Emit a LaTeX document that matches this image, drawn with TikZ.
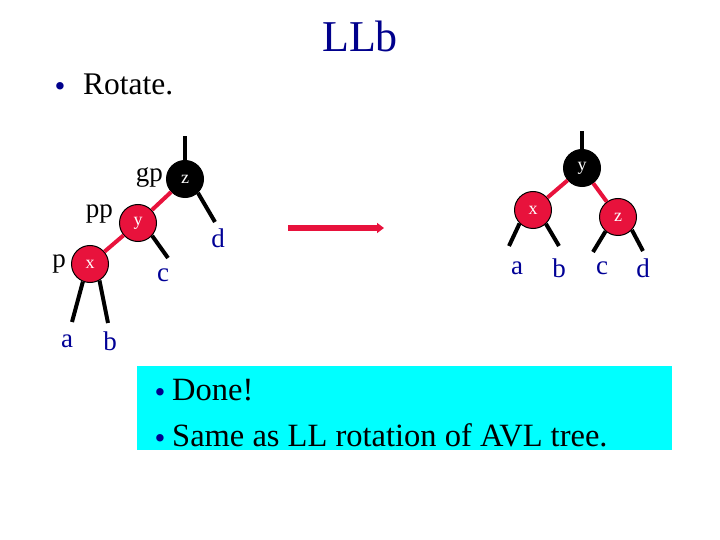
\documentclass[tikz,border=0pt]{standalone}
\usepackage{fontspec}
\setmainfont{Liberation Serif}
\usetikzlibrary{arrows.meta}
\definecolor{rbred}{RGB}{232,18,60}
\definecolor{navy}{RGB}{0,0,140}
\definecolor{lblue}{RGB}{0,0,150}
\definecolor{boxcyan}{RGB}{0,255,255}
\tikzset{
  rnode/.style={circle,draw=black,line width=1pt,fill=rbred,minimum size=37pt,inner sep=0pt,text=white,font=\fontsize{18}{18}\selectfont},
  bnode/.style={circle,draw=black,line width=1pt,fill=black,minimum size=37pt,inner sep=0pt,text=white,font=\fontsize{18}{18}\selectfont},
  blk/.style={line width=4pt,black},
  redge/.style={line width=4pt,rbred},
  sub/.style={text=lblue,font=\fontsize{27}{27}\selectfont,inner sep=0pt},
  role/.style={text=black,font=\fontsize{27}{27}\selectfont,inner sep=0pt},
  btxt/.style={font=\fontsize{32.5}{32.5}\selectfont,inner sep=0pt,anchor=base west},
  bul/.style={text=navy,font=\fontsize{31}{31}\selectfont,inner sep=0pt,anchor=base}
}
\begin{document}
\begin{tikzpicture}[x=1pt,y=-1pt]
\useasboundingbox (0,0) rectangle (720,540);
% title
\node[text=navy,font=\fontsize{44}{44}\selectfont,inner sep=0pt,anchor=base] (title) at (360,52) {LLb};
\node[bul] (b0) at (60,97) {•};
\node[btxt,font=\fontsize{31.5}{31.5}\selectfont] (rot) at (83,95) {Rotate.};
% left tree
\node[bnode] (lz) at (185,179) {z};
\node[rnode] (ly) at (138,223) {y};
\node[rnode] (lx) at (90,264) {x};
\coordinate (lztop) at (185,136);
\coordinate (lde) at (215,222);
\coordinate (lce) at (168,258);
\coordinate (lae) at (72,322);
\coordinate (lbe) at (108,323);
\draw[blk] (lz.north) -- (lztop);
\draw[blk] (lz.-47) -- (lde);
\draw[blk] (ly.-42) -- (lce);
\draw[blk] (lx.-112) -- (lae);
\draw[blk] (lx.-60) -- (lbe);
\draw[redge] (lz) -- (ly);
\draw[redge] (ly) -- (lx);
\node[role,anchor=east] (gp) at (163,177) {gp};
\node[role,anchor=east] (pp) at (113,214) {pp};
\node[role,anchor=east] (p) at (66,264) {p};
\node[sub] (ld) at (218,238) {d};
\node[sub] (lc) at (163,275) {c};
\node[sub] (la) at (67,341) {a};
\node[sub] (lb) at (110,341) {b};
% arrow
\coordinate (arrS) at (288,228);
\coordinate (arrE) at (384,228);
\draw[rbred,line width=5.5pt,-{Triangle[length=7pt,width=10pt]}] (arrS) -- (arrE);
% right tree
\node[bnode] (ry) at (582,168) {y};
\node[rnode] (rx) at (533,210) {x};
\node[rnode] (rz) at (618,217) {z};
\coordinate (rytop) at (582,131);
\coordinate (rae) at (509,246);
\coordinate (rbe) at (559,246);
\coordinate (rce) at (593,252);
\coordinate (rde) at (643,251);
\draw[blk] (ry.north) -- (rytop);
\draw[blk] (rx.-135) -- (rae);
\draw[blk] (rx.-47) -- (rbe);
\draw[blk] (rz.-131) -- (rce);
\draw[blk] (rz.-43) -- (rde);
\draw[redge] (ry) -- (rx);
\draw[redge] (ry) -- (rz);
\node[sub] (ra) at (517,268) {a};
\node[sub] (rb) at (559,268) {b};
\node[sub] (rc) at (602,268) {c};
\node[sub] (rd) at (643,268) {d};
% box
\fill[boxcyan] (137,366) rectangle (672,450);
\node[bul] (b1) at (160,402) {•};
\node[btxt] (t1) at (172,400) {Done!};
\node[bul] (b2) at (160,448) {•};
\node[btxt] (t2) at (172,446) {Same as LL rotation of AVL tree.};
\end{tikzpicture}
\end{document}
